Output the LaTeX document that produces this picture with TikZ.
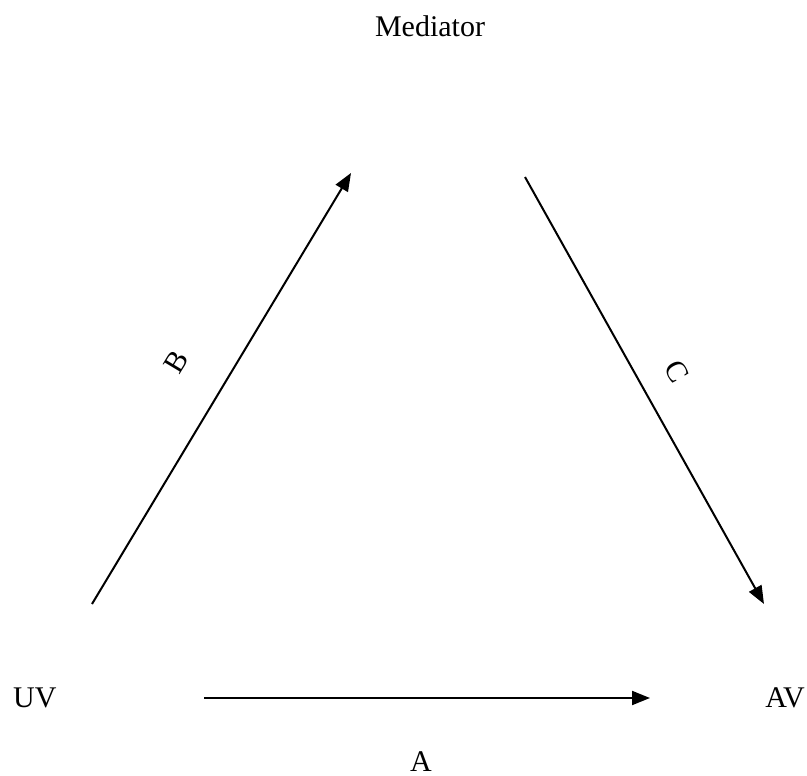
\documentclass[tikz,border=0pt]{standalone}
\usepackage{fontspec}
\setmainfont{Liberation Serif}
\usetikzlibrary{arrows.meta}
\begin{document}
\begin{tikzpicture}[x=1pt,y=-1pt,
  lbl/.style={font=\fontsize{30}{34}\selectfont, inner sep=0pt, anchor=base},
  conn/.style={line width=2pt, -{Triangle[length=18pt,width=14pt]}}]
\useasboundingbox (0,0) rectangle (807,776);
\node[lbl] (med) at (430,37) {Mediator};
\node[lbl, anchor=base west] (uv) at (13,707) {UV};
\node[lbl, anchor=base east] (av) at (805,707) {AV};
\node[lbl, text depth=0pt] (a) at (421,771) {A};
\coordinate (bs) at (92,604);
\coordinate (be) at (351,173);
\coordinate (cs) at (525,177);
\coordinate (ce) at (764,604);
\coordinate (as) at (204,698);
\coordinate (ae) at (650,698);
\draw[conn] (bs) -- (be);
\draw[conn] (cs) -- (ce);
\draw[conn] (as) -- (ae);
\node[lbl, anchor=center, rotate=59] (b) at (176,362) {B};
\node[lbl, anchor=center, rotate=-61] (c) at (677,372) {C};
\end{tikzpicture}
\end{document}
